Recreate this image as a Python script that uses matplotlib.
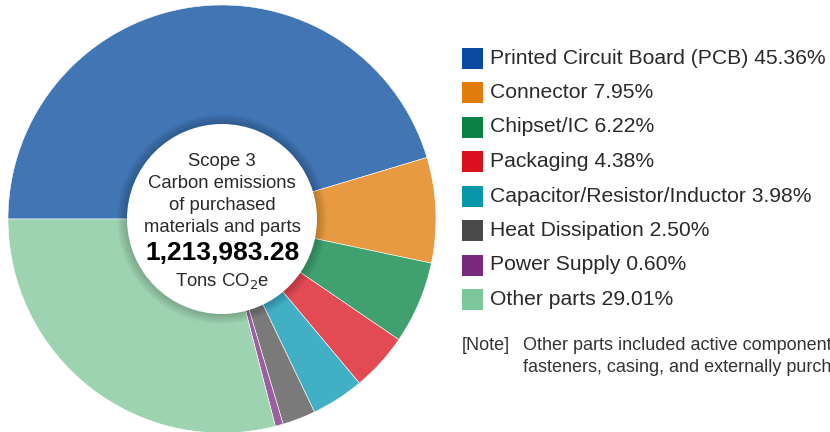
import matplotlib
matplotlib.use("Agg")
import matplotlib.pyplot as plt
from matplotlib.patches import Circle, Rectangle

plt.rcParams['font.family'] = ['Liberation Sans', 'DejaVu Sans']

labels = ['Printed Circuit Board (PCB)', 'Connector', 'Chipset/IC', 'Packaging',
          'Capacitor/Resistor/Inductor', 'Heat Dissipation', 'Power Supply', 'Other parts']
shares = [45.36, 7.95, 6.22, 4.38, 3.98, 2.50, 0.60, 29.01]
pie_colors = ['#4175b4', '#e89a42', '#40a070', '#e34a53', '#42b0c4', '#7a7a7a', '#9c5e9e', '#9dd3b1']
key_colors = ['#0b4aa2', '#e07b0c', '#0a8246', '#d9111f', '#0897aa', '#4a4a4a', '#7a2a7c', '#7cc79b']
total = '1,213,983.28'

fig = plt.figure(figsize=(8.3, 4.32), dpi=100)
ax = fig.add_axes([0, 0, 1, 1])

cx, cy, r = 222, 432 - 219, 214
ax.pie(shares, colors=pie_colors, startangle=180, counterclock=False,
       center=(cx, cy), radius=r,
       wedgeprops=dict(edgecolor='white', linewidth=0.4))

# soft shadow round the centre disc
for i in range(10):
    ax.add_patch(Circle((cx, cy), 95 + 10 - i, color='black', alpha=0.018, lw=0))
ax.add_patch(Circle((cx, cy), 95, color='white', lw=0))

txt = '#2a2a2a'
ax.text(cx, 432 - 162, 'Scope 3', ha='center', va='center', fontsize=13.3, color=txt)
ax.text(cx, 432 - 184, 'Carbon emissions', ha='center', va='center', fontsize=13.3, color=txt)
ax.text(cx, 432 - 205, 'of purchased', ha='center', va='center', fontsize=13.3, color=txt)
ax.text(cx, 432 - 227, 'materials and parts', ha='center', va='center', fontsize=13.3, color=txt)
ax.text(cx, 432 - 253, total, ha='center', va='center', fontsize=19, fontweight='bold', color='black')
ax.text(cx, 432 - 281, r'Tons CO$_2$e', ha='center', va='center', fontsize=13.3, color=txt)

# legend
y0, step = 58, 34.5
for i, (lab, val, col) in enumerate(zip(labels, shares, key_colors)):
    yy = 432 - (y0 + i * step)
    ax.add_patch(Rectangle((462, yy - 10.5), 21, 21, facecolor=col, edgecolor='none'))
    ax.text(490, yy, f'{lab} {val:.2f}%', ha='left', va='center', fontsize=15.2, color=txt)

ax.text(462, 432 - 345, '[Note]', ha='left', va='center', fontsize=13, color='#333333')
ax.text(523, 432 - 345, 'Other parts included active components, passive components,',
        ha='left', va='center', fontsize=13, color='#333333')
ax.text(523, 432 - 367, 'fasteners, casing, and externally purchased parts.',
        ha='left', va='center', fontsize=13, color='#333333')

ax.set_xlim(0, 830)
ax.set_ylim(0, 432)
ax.set_aspect('auto')
ax.axis('off')

fig.savefig('out.png', dpi=100)
